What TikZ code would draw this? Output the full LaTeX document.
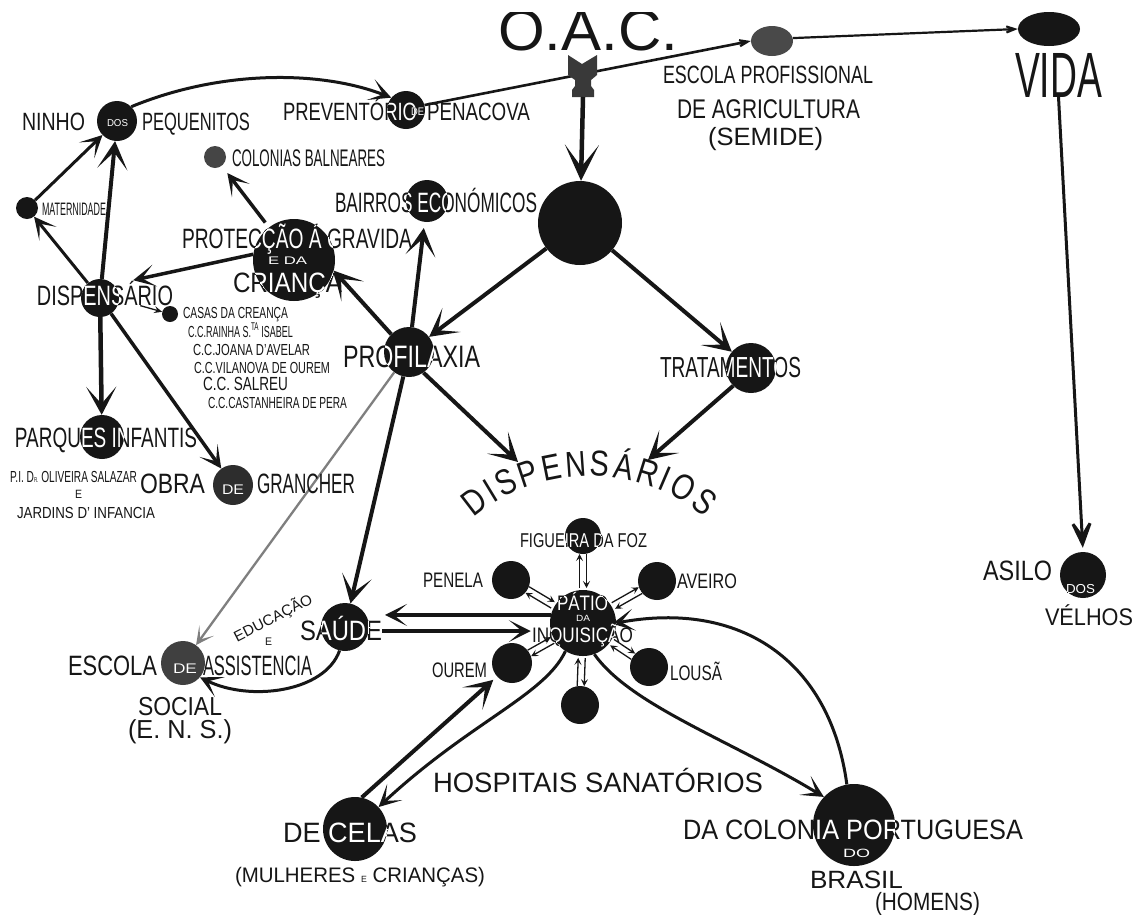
\documentclass[tikz,border=0pt]{standalone}
\usepackage{fontspec}
\setmainfont{Liberation Sans}
\newfontfamily\condf{Liberation Sans}[FakeStretch=0.8]
\usepackage{graphicx}
\usetikzlibrary{arrows.meta,calc,decorations.text,shapes.geometric}
\definecolor{ink}{HTML}{161616}
\newcommand\tx[3]{\resizebox{#2pt}{\height}{\fontsize{#1}{#1}\selectfont #3}}
% cut label: #1 name, #2 position, #3 circle node, #4 radius, #5 content
\newcommand\cutlbl[5]{%
  \node[lbl] (#1) at (#2) {#5};
  \begin{scope}\clip (#3.center) circle[radius=#4];
    \node[lbl,text=white] at (#2) {#5};
  \end{scope}}
\newcommand\satpair[2]{%
  \draw[sat] ($(pat.center)!35pt!(#1.center)!3.5pt!90:(#1.center)$) -- ($(#1.center)!#2pt!(pat.center)!3.5pt!-90:(pat.center)$);
  \draw[sat] ($(#1.center)!#2pt!(pat.center)!3.5pt!90:(pat.center)$) -- ($(pat.center)!35pt!(#1.center)!3.5pt!-90:(#1.center)$);}
\tikzset{
  lbl/.style={inner sep=0pt,outer sep=0pt,anchor=base west,text=ink},
  dot/.style={circle,fill=ink,draw=none,inner sep=0pt,minimum size=#1},
  bigarr/.style={draw=ink,line width=4.5pt,-{Stealth[length=36pt,width=34pt,inset=22pt]}},
  heavy/.style={draw=ink,line width=4pt,-{Stealth[length=28pt,width=30pt,inset=17pt]}},
  mid/.style={draw=ink,line width=3pt,-{Stealth[length=22pt,width=22pt,inset=13pt]}},
  slim/.style={draw=ink,line width=2.3pt,-{Stealth[length=18pt,width=18pt,inset=11pt]}},
  sat/.style={draw=ink,line width=1.3pt,-{Stealth[length=7pt,width=7pt,inset=3pt]}}
}
\begin{document}
\begin{tikzpicture}[x=1pt,y=-1pt]
\useasboundingbox (0,0) rectangle (1142,914);
\fill[white] (0,0) rectangle (1142,914);

% ---------- circles ----------
\node[dot=38] (prev) at (406,110) {};
\node[dot=40] (ninho) at (117,121) {};
\node[dot=22,fill=ink!80] (col) at (215,157) {};
\node[dot=22] (mat) at (27,208) {};
\node[dot=82] (prot) at (294,260) {};
\node[dot=42] (bair) at (427,201) {};
\node[dot=84] (big) at (580,223) {};
\node[dot=38] (disp) at (100,298) {};
\node[dot=16] (casas) at (170,314) {};
\node[dot=50] (prof) at (409,352) {};
\node[dot=50] (trat) at (751,368) {};
\node[dot=44] (parq) at (102,437) {};
\node[dot=40,fill=ink!90] (obra) at (233,485) {};
\node[dot=48] (saude) at (345,627) {};
\node[dot=44,fill=ink!82] (esca) at (183,663) {};
\node[dot=66] (pat) at (583,623) {};
\node[dot=36] (fig) at (583,536) {};
\node[dot=38] (pen) at (511,580) {};
\node[dot=38] (ave) at (657,581) {};
\node[dot=40] (our) at (512,663) {};
\node[dot=38] (lou) at (649,667) {};
\node[dot=38] (bot) at (580,705) {};
\node[dot=64] (celas) at (355,829) {};
\node[dot=82] (colp) at (854,825) {};
\node[dot=46] (asilo) at (1083,575) {};
\node[ellipse,fill=ink!78,inner sep=0pt,minimum width=42,minimum height=30] (escp) at (772,41) {};
\begin{scope}
  \clip (0,12) rectangle (1142,914);
  \node[ellipse,fill=ink,inner sep=0pt,minimum width=62,minimum height=34] (vblob) at (1049,29) {};
  \node[lbl,anchor=base] (oac) at (588,50) {\tx{58}{180}{O.A.C.}};
\end{scope}
\node[lbl] (vida) at (1015,97) {\tx{64}{87}{VIDA}};
\coordinate (fletch) at (583,97);
\coordinate (dspL) at (518,462);
\coordinate (dspR) at (648,460);

% ---------- connectors ----------
\draw[mid,line width=2.6pt,-{Stealth[length=22pt,width=16pt,inset=14pt]}] (prev.15) -- (escp.west);
\draw[slim,line width=2.2pt,-{Stealth[length=22pt,width=16pt,inset=14pt]}] (escp.8) -- (vblob.west);
\fill[ink!85] (568,55) -- (582,64) -- (597,55) -- (597,75) -- (591,80) -- (591,86) -- (594,90) -- (594,97) -- (572,97) -- (572,90) -- (575,86) -- (575,80) -- (568,75) -- cycle;
\draw[bigarr] (fletch) -- (big);
\draw[slim,line width=3pt,-{Stealth[length=38pt,width=32pt,inset=24pt]},shorten >=4pt] (vida.south) -- (asilo.north);
\draw[mid] (ninho.45) .. controls (220,70) and (320,70) .. (prev.140);
\draw[heavy] (big) -- (prof);
\draw[heavy] (big) -- (trat);
\draw[heavy] (prof.135) -- (prot.-15);
\draw[heavy,shorten >=6pt] (prof) -- (bair);
\draw[heavy] (prof.-55) -- (dspL);
\draw[heavy] (trat.-135) -- (dspR);
\draw[heavy] (prof) -- (saude);
\draw[slim,draw=ink!55] (prof) -- (esca);
\draw[mid,line width=3.5pt,shorten >=9pt,shorten <=6pt] (prot) -- (col);
\draw[mid,line width=3.5pt,shorten >=20pt] (prot.172) -- (disp.north east);
\draw[mid] (disp) -- (mat);
\draw[heavy] (disp) -- (ninho);
\draw[mid] (mat) -- (ninho);
\draw[draw=ink,line width=1.3pt,-{Stealth[length=8pt,width=7pt,inset=3pt]},shorten <=22pt] (disp.-5) -- (casas);
\draw[heavy,line width=4.5pt] (disp) -- (parq);
\draw[mid,line width=3.5pt] (disp) -- (obra);
\draw[mid] (saude.-103) .. controls (325,692) and (250,702) .. (esca.-40);
\satpair{fig}{18}
\satpair{pen}{19}
\satpair{ave}{19}
\satpair{our}{20}
\satpair{lou}{19}
\satpair{bot}{19}
\draw[mid] (pat.-122) .. controls (545,695) and (470,722) .. (celas.43);
\draw[heavy,shorten >=5pt] (celas.78) -- (our.222);
\draw[mid] (pat.-70) .. controls (630,705) and (730,740) .. (colp.137);
\draw[mid,shorten >=-4pt] (colp.100) .. controls (830,660) and (740,600) .. (pat.0);

% ---------- labels ----------
\cutlbl{prevT}{283,120}{prev}{19}{\tx{25}{134}{PREVENTÓRIO}}
\cutlbl{prevD}{411,115}{prev}{19}{\tx{11}{13}{DE}}
\node[lbl] (prevP) at (427,120) {\tx{25}{103}{PENACOVA}};
\node[lbl] (escpT1) at (663,83) {\tx{25}{210}{ESCOLA PROFISSIONAL}};
\node[lbl] (escpT2) at (677,118) {\tx{27}{183}{DE AGRICULTURA}};
\node[lbl] (escpT3) at (708,145) {\tx{25}{115}{(SEMIDE)}};
\node[lbl] (ninhoT1) at (22,130) {\tx{25}{63}{NINHO}};
\cutlbl{ninhoD}{107,126}{ninho}{20}{\tx{10}{21}{DOS}}
\node[lbl] (ninhoT2) at (142,130) {\tx{25}{108}{PEQUENITOS}};
\node[lbl] (colT) at (232,166) {\tx{24}{153}{COLONIAS BALNEARES}};
\node[lbl] (matT) at (42,215) {\tx{18}{64}{MATERNIDADE}};
\cutlbl{protT1}{182,248}{prot}{41}{\tx{28}{230}{PROTECÇÃO Á GRAVIDA}}
\cutlbl{protT2}{268,264}{prot}{41}{\tx{11}{39}{E DA}}
\cutlbl{protT3}{233,292}{prot}{41}{\tx{28}{109}{CRIANÇA}}
\cutlbl{bairT}{335,212}{bair}{21}{\tx{28}{202}{BAIRROS ECONÓMICOS}}
\cutlbl{dispT}{37,305}{disp}{19}{\tx{28}{136}{DISPENSÁRIO}}
\node[lbl] (cas1) at (183,318) {\tx{16}{105}{CASAS DA CREANÇA}};
\node[lbl] (cas2) at (188,337) {\tx{16}{105}{C.C.RAINHA S.\textsuperscript{TA} ISABEL}};
\node[lbl] (cas3) at (193,355) {\tx{16}{117}{C.C.JOANA D'AVELAR}};
\node[lbl] (cas4) at (194,373) {\tx{16}{136}{C.C.VILANOVA DE OUREM}};
\node[lbl] (cas5) at (203,390) {\tx{19}{85}{C.C. SALREU}};
\node[lbl] (cas6) at (208,408) {\tx{16}{139}{C.C.CASTANHEIRA DE PERA}};
\cutlbl{profT}{343,367}{prof}{25}{\tx{31}{137}{PROFILAXIA}}
\cutlbl{tratT}{660,377}{trat}{25}{\tx{29}{141}{TRATAMENTOS}}
\cutlbl{parqT}{15,447}{parq}{22}{\tx{28}{182}{PARQUES INFANTIS}}
\node[lbl] (pi1) at (10,482) {\tx{16}{127}{P.I. D{\scriptsize R.} OLIVEIRA SALAZAR}};
\node[lbl] (pi2) at (75,498) {\tx{12}{7}{E}};
\node[lbl] (pi3) at (17,518) {\tx{16}{138}{JARDINS D' INFANCIA}};
\node[lbl] (obraT1) at (140,493) {\tx{28}{65}{OBRA}};
\cutlbl{obraD}{222,494}{obra}{20}{\tx{14}{22}{DE}}
\node[lbl] (obraT2) at (257,493) {\tx{28}{98}{GRANCHER}};
\path[decorate,decoration={text along path,text={|\condf\fontsize{36}{36}\selectfont\color{ink}|DISPENSÁRIOS},text align={fit to path}}]
  (474,518) .. controls (538,462) and (642,462) .. (704,518);
\node[lbl] (escaT1) at (68,675) {\tx{28}{89}{ESCOLA}};
\cutlbl{escaD}{173,673}{esca}{22}{\tx{14}{24}{DE}}
\cutlbl{escaT2}{203,675}{esca}{22}{\tx{28}{109}{ASSISTENCIA}}
\node[lbl] (escaT3) at (138,715) {\tx{26}{84}{SOCIAL}};
\node[lbl] (escaT4) at (128,738) {\tx{26}{104}{(E. N. S.)}};
\node[lbl,rotate=27] (educ) at (237,642) {\tx{15}{86}{EDUCAÇÃO}};
\node[lbl] (educE) at (265,645) {\tx{11}{7}{E}};
\cutlbl{saudeT}{300,640}{saude}{24}{\tx{28}{82}{SAÚDE}}
\cutlbl{figT}{520,547}{fig}{18}{\tx{20}{127}{FIGUEIRA DA FOZ}}
\node[lbl] (penT) at (423,587) {\tx{21}{60}{PENELA}};
\cutlbl{aveT}{677,588}{ave}{19}{\tx{21}{60}{AVEIRO}}
\node[lbl] (ourT) at (432,677) {\tx{21}{55}{OUREM}};
\node[lbl] (louT) at (670,680) {\tx{21}{52}{LOUSÃ}};
\cutlbl{patT1}{557,610}{pat}{33}{\tx{21}{51}{PÁTIO}}
\cutlbl{patT2}{576,621}{pat}{33}{\tx{9}{14}{DA}}
\cutlbl{patT3}{532,642}{pat}{33}{\tx{21}{101}{INQUISIÇÃO}}
\node[lbl] (hospT) at (433,792) {\tx{28}{330}{HOSPITAIS SANATÓRIOS}};
\cutlbl{celasT}{283,842}{celas}{32}{\tx{28}{134}{DE CELAS}}
\node[lbl] (celasT2) at (235,882) {\tx{21}{250}{(MULHERES {\small E} CRIANÇAS)}};
\cutlbl{colpT1}{683,839}{colp}{41}{\tx{28}{340}{DA COLONIA PORTUGUESA}}
\cutlbl{colpT2}{843,857}{colp}{41}{\tx{12}{27}{DO}}
\node[lbl] (colpT3) at (810,888) {\tx{25}{93}{BRASIL}};
\node[lbl] (colpT4) at (875,910) {\tx{25}{105}{(HOMENS)}};
\node[lbl] (asiloT1) at (983,580) {\tx{28}{69}{ASILO}};
\cutlbl{asiloD}{1066,593}{asilo}{23}{\tx{13}{29}{DOS}}
\node[lbl] (asiloT2) at (1045,625) {\tx{24}{88}{VÉLHOS}};

% Patio <-> Saude (need label names)
\draw[mid,line width=3.5pt,shorten >=3pt] (pat.166) -- (pat.166 -| saudeT.east);
\draw[mid,line width=3.5pt,shorten >=20pt] (pat.194 -| saudeT.east) -- (pat.194);
\end{tikzpicture}
\end{document}
